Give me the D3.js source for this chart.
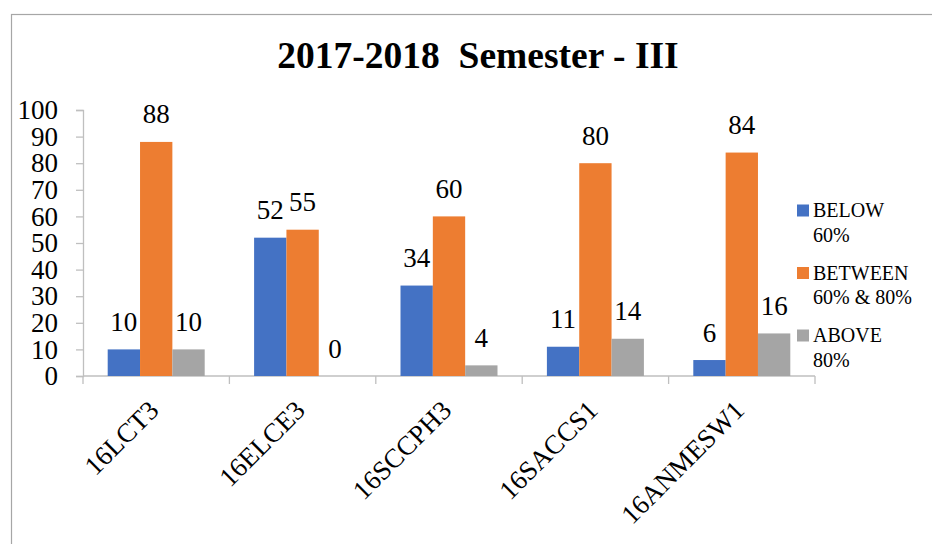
<!DOCTYPE html>
<html>
<head>
<meta charset="utf-8">
<script src="https://cdn.jsdelivr.net/npm/d3@7"></script>
<style>
  body { margin: 0; background: #fff; }
  svg { display: block; }
  svg text { font-family: "Liberation Serif", "Times New Roman", serif; }
</style>
</head>
<body>
<svg id="chart" width="932" height="544"></svg>
<script>
// chart data
var courses = ["16LCT3", "16ELCE3", "16SCCPH3", "16SACCS1", "16ANMESW1"];
var seriesNames = ["BELOW 60%", "BETWEEN 60% & 80%", "ABOVE 80%"];
var legendLines = [["BELOW", "60%"], ["BETWEEN", "60% & 80%"], ["ABOVE", "80%"]];
var below60 = [10, 52, 34, 11, 6];
var between60and80 = [88, 55, 60, 80, 84];
var above80 = [10, 0, 4, 14, 16];
var yTicks = [0, 10, 20, 30, 40, 50, 60, 70, 80, 90, 100];
var colors = ["#4472C4", "#ED7D31", "#A5A5A5"];

var series = [below60, between60and80, above80];
var serif = "Liberation Serif, Times New Roman, serif";

var svg = d3.select("#chart");

// outer chart frame (cropped on right / bottom)
svg.append("rect")
    .attr("x", 11.5).attr("y", 14.5)
    .attr("width", 940).attr("height", 560)
    .attr("fill", "none")
    .attr("stroke", "#a6a6a6")
    .attr("stroke-width", 1.2);

// title
svg.append("text")
    .attr("x", 478).attr("y", 68)
    .attr("text-anchor", "middle")
    .attr("font-family", serif)
    .attr("font-size", 37.5)
    .attr("font-weight", "bold")
    .style("white-space", "pre")
    .text("2017-2018  Semester - III");

var plotLeft = 83, plotRight = 815, plotTop = 110, plotBottom = 376;

var x0 = d3.scaleBand()
    .domain(courses)
    .range([plotLeft, plotRight])
    .padding(0);

var groupGap = 24.7;
var x1 = d3.scaleBand()
    .domain(d3.range(series.length))
    .range([groupGap, x0.bandwidth() - groupGap])
    .padding(0);

var y = d3.scaleLinear()
    .domain([0, 100])
    .range([plotBottom, plotTop]);

// y axis
var yAxis = svg.append("g")
    .attr("transform", "translate(" + plotLeft + ",0)")
    .call(d3.axisLeft(y).tickValues(yTicks).tickSize(7).tickPadding(18));
yAxis.attr("font-family", serif);
yAxis.selectAll("line, path").attr("stroke", "#bfbfbf").attr("stroke-width", 1.3);
yAxis.selectAll("text")
    .attr("font-family", serif)
    .attr("font-size", 27)
    .attr("fill", "#000");

// x axis with ticks at category boundaries
var xAxisG = svg.append("g").attr("transform", "translate(0," + plotBottom + ")");
xAxisG.append("line")
    .attr("x1", plotLeft).attr("x2", plotRight)
    .attr("stroke", "#bfbfbf").attr("stroke-width", 1.3);
var boundaries = courses.map(function(c){ return x0(c); }).concat([plotRight]);
xAxisG.selectAll("line.tick")
    .data(boundaries)
    .enter().append("line")
    .attr("class", "tick")
    .attr("x1", function(d){ return d; })
    .attr("x2", function(d){ return d; })
    .attr("y1", 0).attr("y2", 8)
    .attr("stroke", "#bfbfbf").attr("stroke-width", 1.3);

// rotated category labels
xAxisG.selectAll("text.cat")
    .data(courses)
    .enter().append("text")
    .attr("class", "cat")
    .attr("text-anchor", "end")
    .attr("font-family", serif)
    .attr("font-size", 27)
    .attr("transform", function(d){
        return "translate(" + (x0(d) + x0.bandwidth() / 2 + 4) + ",36) rotate(-45)";
    })
    .text(function(d){ return d; });

// bars
var groups = svg.selectAll("g.course")
    .data(courses)
    .enter().append("g")
    .attr("class", "course")
    .attr("transform", function(d){ return "translate(" + x0(d) + ",0)"; });

groups.selectAll("rect")
    .data(function(d, i){ return series.map(function(s, j){ return {s: j, v: s[i]}; }); })
    .enter().append("rect")
    .attr("x", function(d){ return x1(d.s); })
    .attr("y", function(d){ return y(d.v); })
    .attr("width", x1.bandwidth())
    .attr("height", function(d){ return y(0) - y(d.v); })
    .attr("fill", function(d){ return colors[d.s]; });

// data labels
groups.selectAll("text")
    .data(function(d, i){ return series.map(function(s, j){ return {s: j, v: s[i]}; }); })
    .enter().append("text")
    .attr("x", function(d){ return x1(d.s) + x1.bandwidth() / 2; })
    .attr("y", function(d){ return y(d.v) - 18.5; })
    .attr("text-anchor", "middle")
    .attr("font-family", serif)
    .attr("font-size", 27)
    .text(function(d){ return d.v; });

// legend
var legend = svg.selectAll("g.legend")
    .data(seriesNames)
    .enter().append("g")
    .attr("class", "legend")
    .attr("transform", function(d, i){ return "translate(797," + (217 + i * 62.5) + ")"; });

legend.append("rect")
    .attr("x", 0).attr("y", -12.5)
    .attr("width", 12).attr("height", 12)
    .attr("fill", function(d, i){ return colors[i]; });

legend.append("text")
    .attr("x", 16)
    .attr("font-family", serif)
    .attr("font-size", 20)
    .style("white-space", "pre")
    .selectAll("tspan")
    .data(function(d, i){ return legendLines[i]; })
    .enter().append("tspan")
    .attr("x", 16)
    .attr("dy", function(d, k){ return k === 0 ? 0 : 24.5; })
    .text(function(d){ return d; });
</script>
</body>
</html>
